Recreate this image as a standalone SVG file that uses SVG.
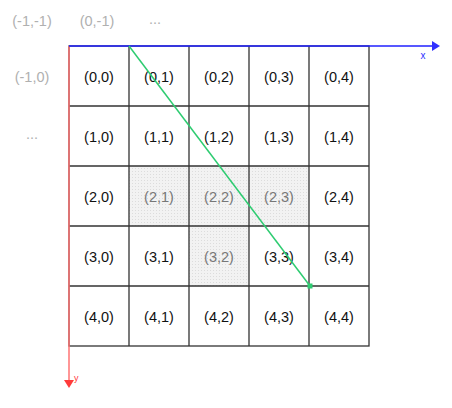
<svg xmlns="http://www.w3.org/2000/svg" width="452" height="408" viewBox="0 0 452 408">
<style>
.t{font-family:"Liberation Sans",Arial,sans-serif;font-size:14.5px;fill:#111;text-anchor:middle}
.g{fill:#777}
.o{font-family:"Liberation Sans",Arial,sans-serif;font-size:14.5px;fill:#b0b0b0;text-anchor:middle}
.cell{fill:none;stroke:#333;stroke-width:1.3}
</style>
<defs>
<pattern id="dots" width="3" height="3" patternUnits="userSpaceOnUse">
<rect width="3" height="3" fill="#f2f2f2"/>
<rect width="1" height="1" fill="#dcdcdc"/>
</pattern>
</defs>
<rect width="452" height="408" fill="#fff"/>
<g id="outside">
<text class="o" x="32" y="26">(-1,-1)</text>
<text class="o" x="97" y="26">(0,-1)</text>
<text class="o" x="155" y="24">...</text>
<text class="o" x="32" y="82">(-1,0)</text>
<text class="o" x="32" y="139">...</text>
</g>
<g id="shaded">
<rect x="129" y="166" width="60" height="60" fill="url(#dots)"/>
<rect x="189" y="166" width="60" height="60" fill="url(#dots)"/>
<rect x="249" y="166" width="60" height="60" fill="url(#dots)"/>
<rect x="189" y="226" width="60" height="60" fill="url(#dots)"/>
</g>
<g id="grid">
<rect class="cell" x="69" y="46" width="300" height="300"/>
<path class="cell" d="M129 46V346M189 46V346M249 46V346M309 46V346M69 106H369M69 166H369M69 226H369M69 286H369"/>
</g>
<g id="cells">
<text class="t" x="99" y="82">(0,0)</text><text class="t" x="159" y="82">(0,1)</text><text class="t" x="219" y="82">(0,2)</text><text class="t" x="279" y="82">(0,3)</text><text class="t" x="339" y="82">(0,4)</text>
<text class="t" x="99" y="142">(1,0)</text><text class="t" x="159" y="142">(1,1)</text><text class="t" x="219" y="142">(1,2)</text><text class="t" x="279" y="142">(1,3)</text><text class="t" x="339" y="142">(1,4)</text>
<text class="t" x="99" y="202">(2,0)</text><text class="t g" x="159" y="202">(2,1)</text><text class="t g" x="219" y="202">(2,2)</text><text class="t g" x="279" y="202">(2,3)</text><text class="t" x="339" y="202">(2,4)</text>
<text class="t" x="99" y="262">(3,0)</text><text class="t" x="159" y="262">(3,1)</text><text class="t g" x="219" y="262">(3,2)</text><text class="t" x="279" y="262">(3,3)</text><text class="t" x="339" y="262">(3,4)</text>
<text class="t" x="99" y="322">(4,0)</text><text class="t" x="159" y="322">(4,1)</text><text class="t" x="219" y="322">(4,2)</text><text class="t" x="279" y="322">(4,3)</text><text class="t" x="339" y="322">(4,4)</text>
</g>
<g id="connectors">
<line x1="69" y1="46" x2="69" y2="380" stroke="#ff7373" stroke-width="1.5"/>
<polygon points="64,380 74,380 69,388" fill="#ff3b3b"/>
<text x="74" y="381" font-family="Liberation Sans,Arial,sans-serif" font-size="9" fill="#ff4040">y</text>
<line x1="69" y1="46" x2="433" y2="46" stroke="#2020ff" stroke-width="1.5"/>
<polygon points="432,41 432,51 440,46" fill="#3030ff"/>
<text x="423" y="59" font-family="Liberation Sans,Arial,sans-serif" font-size="10" fill="#3030ff" text-anchor="middle">x</text>
<line x1="129" y1="46" x2="310" y2="286" stroke="#2ecc71" stroke-width="1.5"/>
<rect x="307.5" y="283.5" width="5" height="5" fill="#2ecc71"/>
</g>
</svg>
